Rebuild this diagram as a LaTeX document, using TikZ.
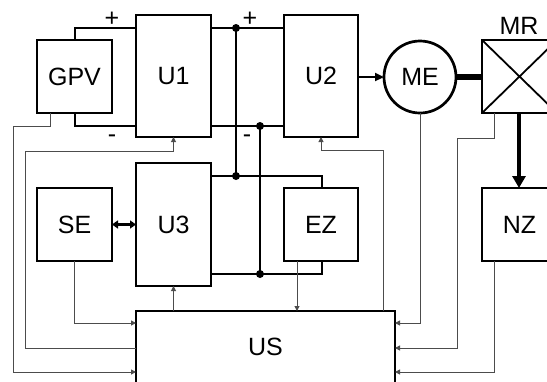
\documentclass[tikz,border=0pt]{standalone}
\usepackage{fontspec}
\setmainfont{Liberation Sans}
\usetikzlibrary{arrows.meta,calc}
\begin{document}
\begin{tikzpicture}[x=1pt,y=-1pt,
  txt/.style={font=\fontsize{25}{29}\selectfont},
  blk/.style={draw, line width=2.7pt, inner sep=0pt, outer sep=0pt, minimum width=75pt, minimum height=73pt, txt},
  pwr/.style={line width=2.7pt},
  sig/.style={line width=1pt, draw=black!70},
  sigarr/.style={sig, -{Triangle[length=5pt,width=5pt]}},
  jdot/.style={circle, fill, inner sep=0pt, minimum size=8pt}
]
\useasboundingbox (0,0) rectangle (547,381);
\clip (0,0) rectangle (547,381);
% blocks
\node[blk] (gpv) at (74.5,76.5) {GPV};
\node[blk, minimum height=122pt] (u1) at (173.5,76) {U1};
\node[blk, minimum width=74pt, minimum height=122pt] (u2) at (321,76) {U2};
\node[blk, minimum height=123pt] (u3) at (173.5,224.5) {U3};
\node[blk] (se) at (74.5,224.5) {SE};
\node[blk, minimum width=74pt] (ez) at (321,224.5) {EZ};
\node[blk] (nz) at (519.5,224.5) {NZ};
\node[blk] (mr) at (519.5,76.5) {};
\draw[line width=1.8pt] (mr.north west) -- (mr.south east) (mr.north east) -- (mr.south west);
\node[txt] (mrl) at (519,26) {MR};
\node[draw, circle, line width=2.7pt, minimum size=72pt, inner sep=0pt, outer sep=0pt, txt] (me) at (420,77) {ME};
\node[blk, minimum width=259pt, minimum height=72pt] (us) at (265.5,347) {US};
% polarity labels
\node[txt, anchor=base] (p1) at (112,26) {+};
\node[txt, anchor=base] (p2) at (250,26) {+};
\node[txt, anchor=base] (m1) at (112,142) {-};
\node[txt, anchor=base] (m2) at (247,142) {-};
% power wires
\coordinate (j1) at (236,28);
\coordinate (j2) at (260,126);
\coordinate (j3) at (236,176);
\coordinate (j4) at (260,274);
\draw[pwr] (gpv.north -| 75,0) -- (75,28) -- (u1.west |- j1);
\draw[pwr] (gpv.south -| 75,0) -- (75,126) -- (u1.west |- j2);
\draw[pwr] (u1.east |- j1) -- (u2.west |- j1);
\draw[pwr] (u1.east |- j2) -- (u2.west |- j2);
\draw[pwr] (j1) -- (j3);
\draw[pwr] (j2) -- (j4);
\draw[pwr] (u3.east |- j3) -- (322,176) -- (ez.north -| 322,0);
\draw[pwr] (u3.east |- j4) -- (322,274) -- (ez.south -| 322,0);
\node[jdot] (d1) at (j1) {};
\node[jdot] (d2) at (j2) {};
\node[jdot] (d3) at (j3) {};
\node[jdot] (d4) at (j4) {};
% main arrows
\draw[pwr, -{Triangle[length=9pt,width=8pt]}] (u2.east |- me.west) -- (me.west);
\draw[line width=6pt] (me.east) -- (mr.west |- me.east);
\draw[line width=4.5pt, -{Triangle[length=12pt,width=13pt]}] (mr.south -| 519,0) -- (nz.north -| 519,0);
\draw[pwr, {Triangle[length=6pt,width=8pt]}-{Triangle[length=6pt,width=8pt]}] (se.east) -- (u3.west |- se.east);
% signal lines
\draw[sigarr] (gpv.south -| 50,0) -- (50,126) -- (13,126) -- (13,372) -- (us.west |- 0,372);
\draw[sigarr] (us.west |- 0,348) -- (25,348) -- (25,151) -- (u1.south |- 0,151) -- (u1.south);
\draw[sigarr] (se.south) |- (us.west |- 0,323);
\draw[sigarr] (us.north -| u3.south) -- (u3.south);
\draw[sigarr] (ez.south -| 297,0) -- (us.north -| 297,0);
\draw[sigarr] (us.north -| 383,0) -- (383,150) -- (u2.south |- 0,150) -- (u2.south);
\draw[sigarr] (me.south) |- (us.east |- 0,323);
\draw[sigarr] (mr.south -| 494,0) -- (494,138) -- (457,138) -- (457,348) -- (us.east |- 0,348);
\draw[sigarr] (nz.south -| 494,0) |- (us.east |- 0,372);
\end{tikzpicture}
\end{document}
